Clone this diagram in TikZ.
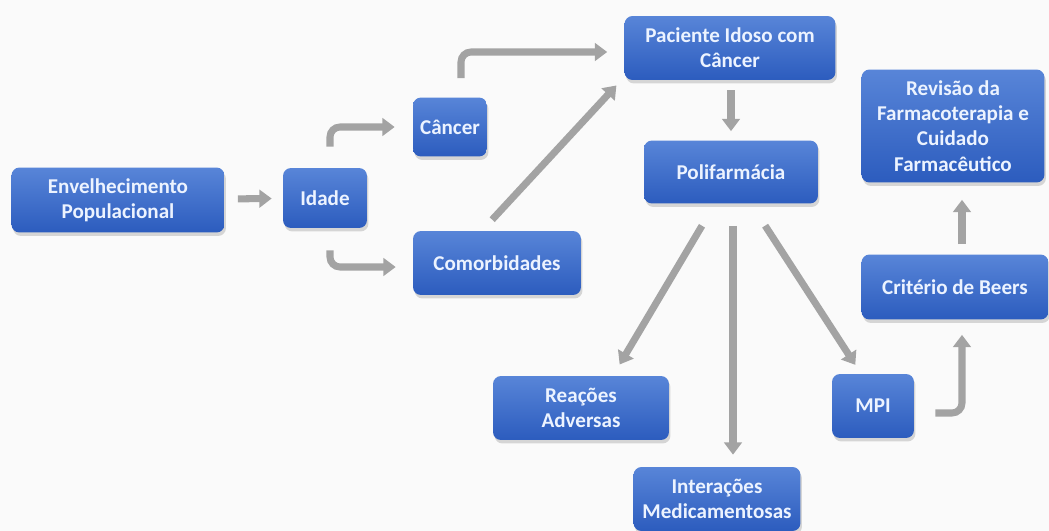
\documentclass[tikz,border=0pt]{standalone}
\usepackage{fontspec}
\setmainfont{Carlito}
\usetikzlibrary{calc,arrows.meta,shadows}
\definecolor{azulclaro}{RGB}{88,133,216}
\definecolor{azulescuro}{RGB}{44,92,190}
\definecolor{textoclaro}{RGB}{236,243,255}
\definecolor{cinzaseta}{RGB}{163,163,163}
\definecolor{fundo}{RGB}{250,250,250}

\begin{document}
\begin{tikzpicture}[x=0.02cm,y=-0.02cm,
  caixa/.style={rectangle,rounded corners=1.6mm,top color=azulclaro,bottom color=azulescuro,text=textoclaro,align=center,font=\fontsize{12}{14.3}\selectfont\bfseries,inner sep=0pt,drop shadow={shadow xshift=0.03cm,shadow yshift=-0.07cm,opacity=0.3}},
  seta/.style={draw=cinzaseta,line width=4pt,rounded corners=2mm,-{Triangle[length=7pt,width=10pt]}}]
\useasboundingbox (0,0) rectangle (1049,531);
\fill[fundo] (0,0) rectangle (1049,531);
\node[caixa,minimum width=4.26cm,minimum height=1.3cm] (Env) at (118,200) {Envelhecimento\\Populacional};
\node[caixa,minimum width=1.68cm,minimum height=1.2cm] (Idade) at (325,198) {Idade};
\node[caixa,minimum width=1.48cm,minimum height=1.18cm] (Cancer) at (450,127) {Câncer};
\node[caixa,minimum width=3.36cm,minimum height=1.28cm] (Comorb) at (497,263) {Comorbidades};
\node[caixa,minimum width=4.22cm,minimum height=1.28cm] (Paciente) at (730,48) {Paciente Idoso com\\Câncer};
\node[caixa,minimum width=3.48cm,minimum height=1.26cm] (Poli) at (731,172) {Polifarmácia};
\node[caixa,minimum width=3.66cm,minimum height=2.26cm] (Rev) at (953,126) {Revisão da\\Farmacoterapia e\\Cuidado\\Farmacêutico};
\node[caixa,minimum width=3.74cm,minimum height=1.3cm] (Crit) at (955,287) {Critério de Beers};
\node[caixa,minimum width=1.64cm,minimum height=1.28cm] (MPI) at (873,406) {MPI};
\node[caixa,minimum width=3.52cm,minimum height=1.28cm] (Reac) at (581,408) {Reações\\Adversas};
\node[caixa,minimum width=3.34cm,minimum height=1.28cm] (Inter) at (717,499) {Interações\\Medicamentosas};
\draw[seta,shorten <=0.26cm,shorten >=0.22cm] (Env) -- (Idade);
\draw[seta,shorten <=0.42cm,shorten >=0.36cm] ($(Idade.north)+(5,0)$) |- (Cancer);
\draw[seta,shorten <=0.44cm,shorten >=0.34cm] ($(Idade.south)+(5,0)$) |- ($(Comorb.west)+(0,4)$);
\draw[seta,shorten <=0.38cm,shorten >=0.34cm] ($(Cancer.north)+(11,0)$) |- ($(Paciente.west)+(0,4)$);
\draw[seta,shorten <=0.3cm,shorten >=0.14cm] ($(Comorb.north)+(-15,0)$) -- ($(Paciente.south west)+(-3,0)$);
\draw[seta,shorten <=0.2cm,shorten >=0.18cm] ($(Paciente.south)+(1,0)$) -- (Poli.north);
\draw[seta,shorten <=0.51cm,shorten >=0.26cm] ($(Poli.south)+(-16,0)$) -- ($(Reac.north)+(32,0)$);
\draw[seta,shorten <=0.44cm,shorten >=0.24cm] ($(Poli.south)+(2,0)$) -- ($(Poli.south |- Inter.north)+(2,0)$);
\draw[seta,shorten <=0.52cm,shorten >=0.21cm] ($(Poli.south)+(20,0)$) -- ($(MPI.north)+(-12,0)$);
\draw[seta,shorten <=0.42cm,shorten >=0.3cm] ($(MPI.east)+(0,7)$) -| ($(Crit.south)+(7,0)$);
\draw[seta,shorten <=0.2cm,shorten >=0.34cm] ($(Crit.north)+(7,0)$) -- ($(Crit.north |- Rev.south)+(7,0)$);
\end{tikzpicture}
\end{document}
